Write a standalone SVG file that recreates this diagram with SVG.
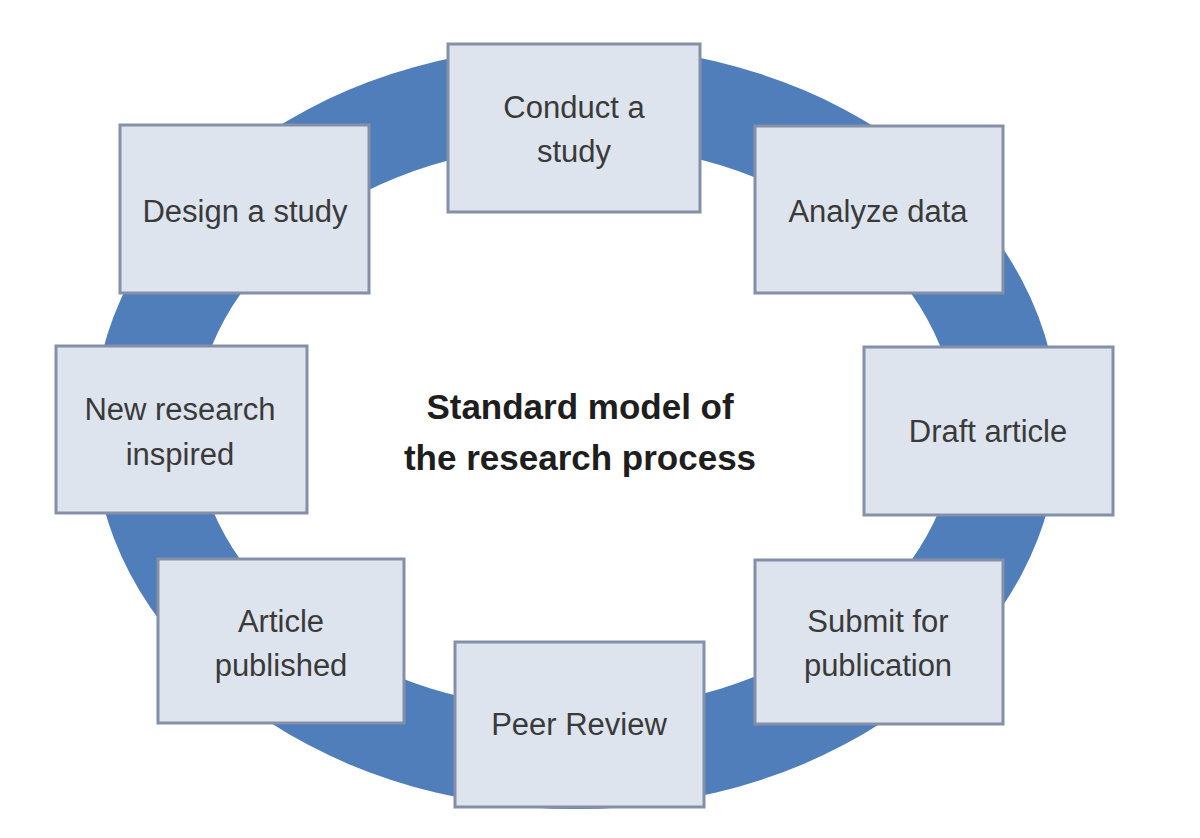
<svg xmlns="http://www.w3.org/2000/svg" width="1200" height="838" viewBox="0 0 1200 838">
<style>
.box{fill:#DDE4EE;stroke:#8390A8;stroke-width:3}
.lbl{font-family:"Liberation Sans",Arial,sans-serif;font-size:31px;fill:#3A3A3A;text-anchor:middle}
.ttl{font-family:"Liberation Sans",Arial,sans-serif;font-size:35px;font-weight:bold;fill:#1E1E1E;text-anchor:middle}
</style>
<rect width="1200" height="838" fill="#FFFFFF"/>
<g id="connectors">
<path id="ring" fill="#4F7EBB" fill-rule="evenodd" d="M93,427 A483,382 0 1,0 1059,427 A483,382 0 1,0 93,427 Z M196,427 A380,283 0 1,0 956,427 A380,283 0 1,0 196,427 Z"/>
</g>
<g id="conduct"><rect class="box" x="448" y="44" width="252" height="168"/><text class="lbl" x="574" y="118">Conduct a</text><text class="lbl" x="574" y="162">study</text></g>
<g id="design"><rect class="box" x="120" y="125" width="249" height="168"/><text class="lbl" x="245" y="222">Design a study</text></g>
<g id="analyze"><rect class="box" x="755" y="126" width="248" height="167"/><text class="lbl" x="878" y="222">Analyze data</text></g>
<g id="newresearch"><rect class="box" x="56" y="346" width="251" height="167"/><text class="lbl" x="180" y="420">New research</text><text class="lbl" x="180" y="465">inspired</text></g>
<g id="draft"><rect class="box" x="864" y="347" width="249" height="168"/><text class="lbl" x="988" y="442">Draft article</text></g>
<g id="published"><rect class="box" x="158" y="559" width="246" height="164"/><text class="lbl" x="281" y="632">Article</text><text class="lbl" x="281" y="676">published</text></g>
<g id="peer"><rect class="box" x="455" y="642" width="249" height="165"/><text class="lbl" x="579" y="735">Peer Review</text></g>
<g id="submit"><rect class="box" x="755" y="560" width="248" height="164"/><text class="lbl" x="878" y="632">Submit for</text><text class="lbl" x="878" y="676">publication</text></g>
<g id="title"><text class="ttl" x="580" y="419">Standard model of</text><text class="ttl" x="580" y="470">the research process</text></g>
</svg>
